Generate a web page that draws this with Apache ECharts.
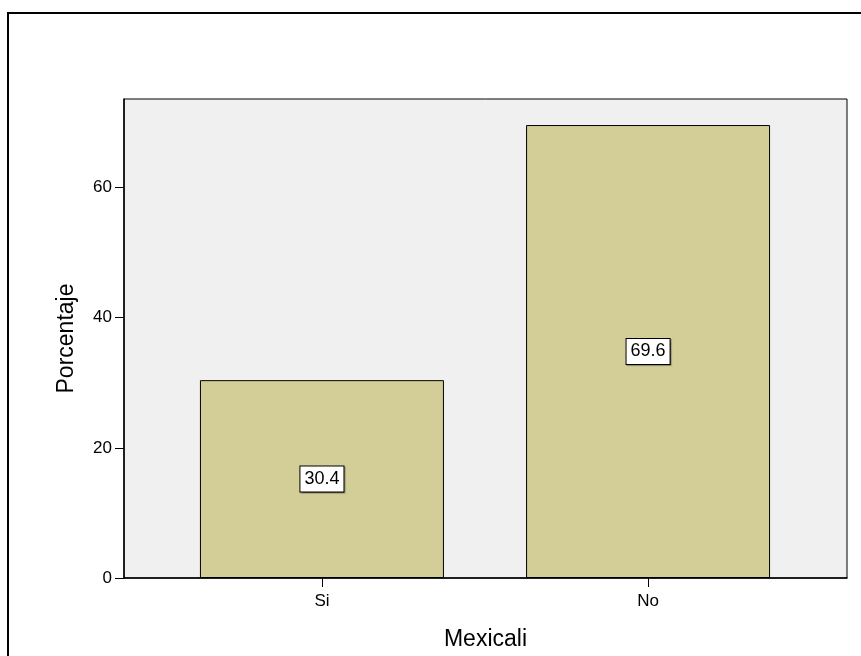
<!DOCTYPE html>
<html>
<head>
<meta charset="utf-8">
<script src="https://cdn.jsdelivr.net/npm/echarts@6/dist/echarts.min.js"></script>
<style>
html,body{margin:0;padding:0;background:#fff;}
#chart{width:861px;height:656px;}
</style>
</head>
<body>
<div id="chart"></div>
<script>
var categories = ['Si', 'No'];
var values = [30.4, 69.6];
var yTicks = [0, 20, 40, 60];
var xTitle = 'Mexicali';
var yTitle = 'Porcentaje';

var FONT = '"Liberation Sans", Arial, sans-serif';
var chart = echarts.init(document.getElementById('chart'), null, {renderer: 'canvas'});

var barData = values.map(function (v, i) { return [i, v]; });

chart.setOption({
  animation: false,
  backgroundColor: '#ffffff',
  graphic: [{
    type: 'rect',
    shape: {x: 8, y: 13, width: 900, height: 700},
    style: {fill: 'none', stroke: '#000', lineWidth: 2},
    silent: true
  }],
  grid: {
    left: 124, right: 14, top: 99, bottom: 78,
    containLabel: false, outerBoundsMode: 'none',
    show: true, backgroundColor: '#f0f0f0', borderColor: '#000', borderWidth: 1
  },
  xAxis: {
    type: 'value',
    min: -0.607, max: 1.61,
    name: xTitle, nameLocation: 'middle', nameGap: 50,
    nameTextStyle: {fontFamily: FONT, fontSize: 23, color: '#000'},
    axisLine: {show: true, onZero: false, lineStyle: {color: '#000', width: 1.5}},
    axisTick: {show: true, length: 9, lineStyle: {color: '#000'}, customValues: [0, 1]},
    axisLabel: {
      fontFamily: FONT, fontSize: 17, color: '#000', margin: 15,
      customValues: [0, 1],
      formatter: function (v) { return categories[Math.round(v)] || ''; }
    },
    splitLine: {show: false}
  },
  yAxis: {
    type: 'value',
    min: 0, max: 73.6, interval: 20,
    name: yTitle, nameLocation: 'middle', nameGap: 46, nameRotate: 90,
    nameTextStyle: {fontFamily: FONT, fontSize: 23, color: '#000'},
    axisLine: {show: true, onZero: false, lineStyle: {color: '#000', width: 1.5}},
    axisTick: {show: true, length: 9, lineStyle: {color: '#000'}, customValues: yTicks},
    axisLabel: {fontFamily: FONT, fontSize: 17, color: '#000', margin: 12, customValues: yTicks},
    splitLine: {show: false}
  },
  series: [{
    type: 'bar',
    data: barData,
    barWidth: 244,
    itemStyle: {color: '#d3ce98', borderColor: '#000', borderWidth: 1},
    label: {
      show: true, position: 'inside',
      formatter: function (p) { return p.value[1].toFixed(1); },
      fontFamily: FONT, fontSize: 18, color: '#000',
      backgroundColor: '#fff', borderColor: '#000', borderWidth: 1,
      padding: [4, 4, 3, 4],
      shadowColor: 'rgba(0,0,0,0.35)', shadowOffsetX: 1, shadowOffsetY: 1, shadowBlur: 1
    }
  }]
});
</script>
</body>
</html>
